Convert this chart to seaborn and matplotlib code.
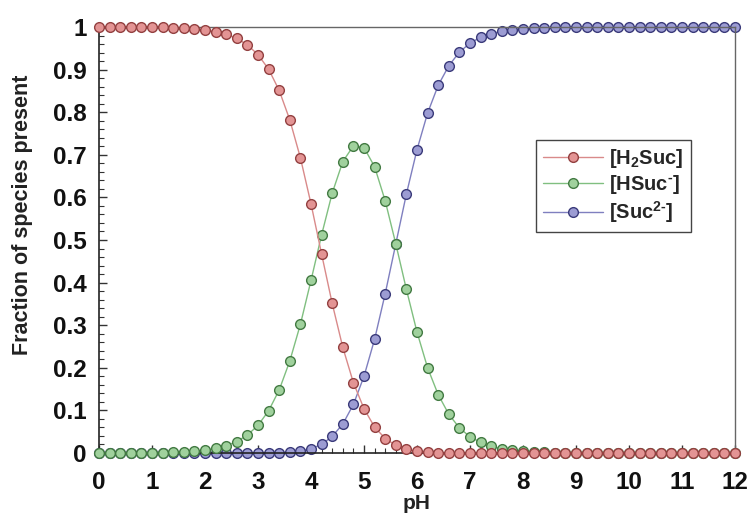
import matplotlib
matplotlib.use("Agg")
import matplotlib.pyplot as plt
import numpy as np
import seaborn as sns
from matplotlib.ticker import MultipleLocator, FixedLocator, FixedFormatter

# pH grid (one point every 0.2 units)
ph = np.round(np.arange(0, 12.01, 0.2), 1)

# Fractions, one value per pH point
h2suc = [1.000, 1.000, 1.000, 1.000, 1.000, 0.999, 0.999, 0.998, 0.997, 0.996,
         0.993, 0.989, 0.983, 0.973, 0.958, 0.935, 0.901, 0.851, 0.782, 0.693,
         0.585, 0.467, 0.351, 0.248, 0.165, 0.104, 0.061, 0.034, 0.018, 0.009,
         0.004, 0.002, 0.001, 0.000, 0.000, 0.000, 0.000, 0.000, 0.000, 0.000,
         0.000, 0.000, 0.000, 0.000, 0.000, 0.000, 0.000, 0.000, 0.000, 0.000,
         0.000, 0.000, 0.000, 0.000, 0.000, 0.000, 0.000, 0.000, 0.000, 0.000,
         0.000]
hsuc = [0.000, 0.000, 0.000, 0.000, 0.000, 0.001, 0.001, 0.002, 0.003, 0.004,
        0.007, 0.011, 0.017, 0.027, 0.042, 0.065, 0.099, 0.148, 0.216, 0.302,
        0.405, 0.512, 0.610, 0.684, 0.721, 0.717, 0.672, 0.592, 0.491, 0.384,
        0.284, 0.200, 0.137, 0.091, 0.059, 0.038, 0.025, 0.016, 0.010, 0.006,
        0.004, 0.003, 0.002, 0.001, 0.001, 0.000, 0.000, 0.000, 0.000, 0.000,
        0.000, 0.000, 0.000, 0.000, 0.000, 0.000, 0.000, 0.000, 0.000, 0.000,
        0.000]
suc = [0.000, 0.000, 0.000, 0.000, 0.000, 0.000, 0.000, 0.000, 0.000, 0.000,
       0.000, 0.000, 0.000, 0.000, 0.000, 0.000, 0.000, 0.001, 0.002, 0.005,
       0.010, 0.020, 0.039, 0.068, 0.114, 0.180, 0.267, 0.374, 0.491, 0.608,
       0.712, 0.798, 0.863, 0.909, 0.941, 0.962, 0.976, 0.984, 0.990, 0.994,
       0.996, 0.997, 0.998, 0.999, 0.999, 1.000, 1.000, 1.000, 1.000, 1.000,
       1.000, 1.000, 1.000, 1.000, 1.000, 1.000, 1.000, 1.000, 1.000, 1.000,
       1.000]

series_labels = ["[H$_2$Suc]", r"[HSuc$^{\text{-}}$]", r"[Suc$^{\text{2-}}$]"]
x_ticks = list(range(0, 13))
y_ticks = [0, 0.1, 0.2, 0.3, 0.4, 0.5, 0.6, 0.7, 0.8, 0.9, 1.0]
y_tick_labels = ["0", "0.1", "0.2", "0.3", "0.4", "0.5", "0.6", "0.7", "0.8", "0.9", "1"]

# (line, marker face, marker edge)
styles = {
    "red": ("#d98a8a", "#e39494", "#934040"),
    "green": ("#80bf80", "#a0d19d", "#427a42"),
    "blue": ("#7f7fbf", "#9c9cd3", "#3a3a7a"),
}

sns.set_style("ticks")
plt.rcParams["font.family"] = ["Liberation Sans", "DejaVu Sans"]
plt.rcParams["font.weight"] = "bold"
plt.rcParams["mathtext.fontset"] = "custom"
plt.rcParams["mathtext.rm"] = "Liberation Sans:bold"
plt.rcParams["mathtext.it"] = "Liberation Sans:bold"
plt.rcParams["mathtext.bf"] = "Liberation Sans:bold"
plt.rcParams["mathtext.default"] = "rm"

fig = plt.figure(figsize=(7.54, 5.21), dpi=100)
ax = fig.add_axes([0.1313, 0.1305, 0.8435, 0.8177])

# drawn blue -> green -> red so red sits on top, as in the reference
for key, vals, label, z in [("blue", suc, series_labels[2], 2),
                            ("green", hsuc, series_labels[1], 3),
                            ("red", h2suc, series_labels[0], 4)]:
    line_c, face_c, edge_c = styles[key]
    sns.lineplot(x=ph, y=vals, ax=ax, color=line_c, linewidth=1.0,
                 marker="o", markersize=7, markerfacecolor=face_c,
                 markeredgecolor=edge_c, markeredgewidth=1.0,
                 label=label, zorder=z, clip_on=False)

ax.set_xlim(0, 12)
ax.set_ylim(0, 1)
ax.xaxis.set_major_locator(FixedLocator(x_ticks))
ax.xaxis.set_minor_locator(MultipleLocator(0.2))
ax.yaxis.set_major_locator(FixedLocator(y_ticks))
ax.yaxis.set_major_formatter(FixedFormatter(y_tick_labels))
ax.yaxis.set_minor_locator(MultipleLocator(0.02))

ax.tick_params(which="both", direction="in", colors="#333333")
ax.tick_params(which="major", length=6, width=1, labelsize=17.5, labelcolor="#111111")
ax.tick_params(which="minor", length=3.5, width=0.8)
ax.tick_params(axis="y", which="major", pad=9)
ax.tick_params(axis="x", which="major", pad=13)

for side in ["left", "bottom"]:
    ax.spines[side].set_color("#222222")
    ax.spines[side].set_linewidth(1.2)
for side in ["top", "right"]:
    ax.spines[side].set_color("#666666")
    ax.spines[side].set_linewidth(1.0)

ax.set_xlabel("pH", fontsize=15, fontweight="bold", labelpad=0, color="#222222")
ax.set_ylabel("Fraction of species present", fontsize=15.5, fontweight="bold",
              color="#222222")
ax.yaxis.set_label_coords(-0.104, 0.559)

h, l = ax.get_legend_handles_labels()
order = [l.index(s) for s in series_labels]
leg = ax.legend([h[i] for i in order], [l[i] for i in order],
                loc="upper left", bbox_to_anchor=(0.687, 0.735),
                borderaxespad=0, fontsize=14.5, handlelength=3.0,
                handletextpad=0.3, labelspacing=0.15, borderpad=0.35,
                fancybox=False, framealpha=1, edgecolor="#444444")
leg.get_frame().set_linewidth(1.0)

fig.savefig("out.png", dpi=100)
